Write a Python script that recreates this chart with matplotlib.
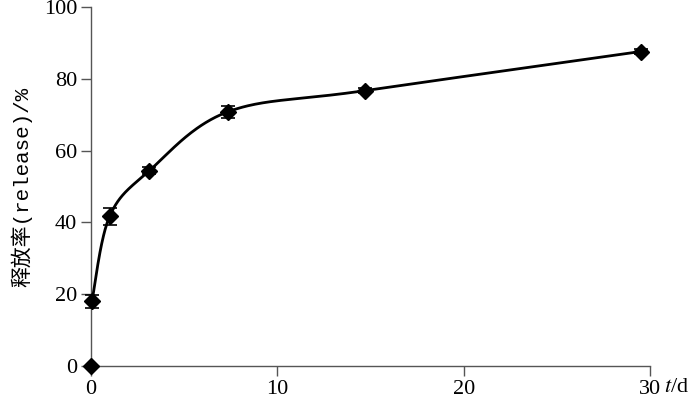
import matplotlib
matplotlib.use("Agg")
import matplotlib.pyplot as plt
import numpy as np

plt.rcParams["mathtext.fontset"] = "stix"

# Daten
tage = [0.0, 0.05, 1.0, 3.13, 7.34, 14.7, 29.5]
freisetzung = [0.0, 18.0, 41.7, 54.4, 70.8, 76.7, 87.6]
fehler = [0.0, 1.8, 2.4, 1.0, 1.6, 0.6, 0.8]

x_ticks = [0, 10, 20, 30]
y_ticks = [0, 20, 40, 60, 80, 100]


def glatte_linie(ax, x, y, n=60):
    # Bezier-Glaettung im Bildraum (wie "geglaettete Linie")
    P = ax.transData.transform(np.column_stack([x, y]))
    Q = np.vstack([P[0], P, P[-1]])
    s = np.linspace(0, 1, n)[:, None]
    teile = []
    for i in range(len(P) - 1):
        b0 = Q[i + 1]
        b3 = Q[i + 2]
        b1 = b0 + (Q[i + 2] - Q[i]) / 6
        b2 = b3 - (Q[i + 3] - Q[i + 1]) / 6
        teile.append((1 - s) ** 3 * b0 + 3 * (1 - s) ** 2 * s * b1
                     + 3 * (1 - s) * s ** 2 * b2 + s ** 3 * b3)
    pts = ax.transData.inverted().transform(np.vstack(teile))
    return pts[:, 0], pts[:, 1]


fig = plt.figure(figsize=(7, 4.05), dpi=100)
ax = fig.add_axes([0.13, 0.0963, 0.7986, 0.8864])
ax.set_xlim(0, 30)
ax.set_ylim(0, 100)

# Kurve ab dem zweiten Punkt
kx, ky = glatte_linie(ax, tage[1:], freisetzung[1:])
ax.plot(kx, ky, color="black", lw=2.0, clip_on=False, zorder=3)

ax.errorbar(tage, freisetzung, yerr=fehler, fmt="D", color="black",
            ms=8, capsize=5, elinewidth=1.2, capthick=1.2, clip_on=False,
            zorder=4)

ax.set_xticks(x_ticks)
ax.set_yticks(y_ticks)
for s in ["top", "right"]:
    ax.spines[s].set_visible(False)
for s in ["left", "bottom"]:
    ax.spines[s].set_color("#555555")
    ax.spines[s].set_linewidth(1.0)
ax.tick_params(direction="out", length=7, width=1.0, color="#555555",
               labelsize=16, pad=3)
for lab in ax.get_xticklabels() + ax.get_yticklabels():
    lab.set_family("Liberation Serif")

ax.set_ylabel("释放率(release)/%", fontsize=15,
              family=["Liberation Mono", "Noto Sans CJK SC"], labelpad=8)
ax.text(30.75, -3.3, "$t$/d", fontsize=16, family="Liberation Serif",
        ha="left", va="top", clip_on=False)

fig.savefig("out.png", dpi=100)
